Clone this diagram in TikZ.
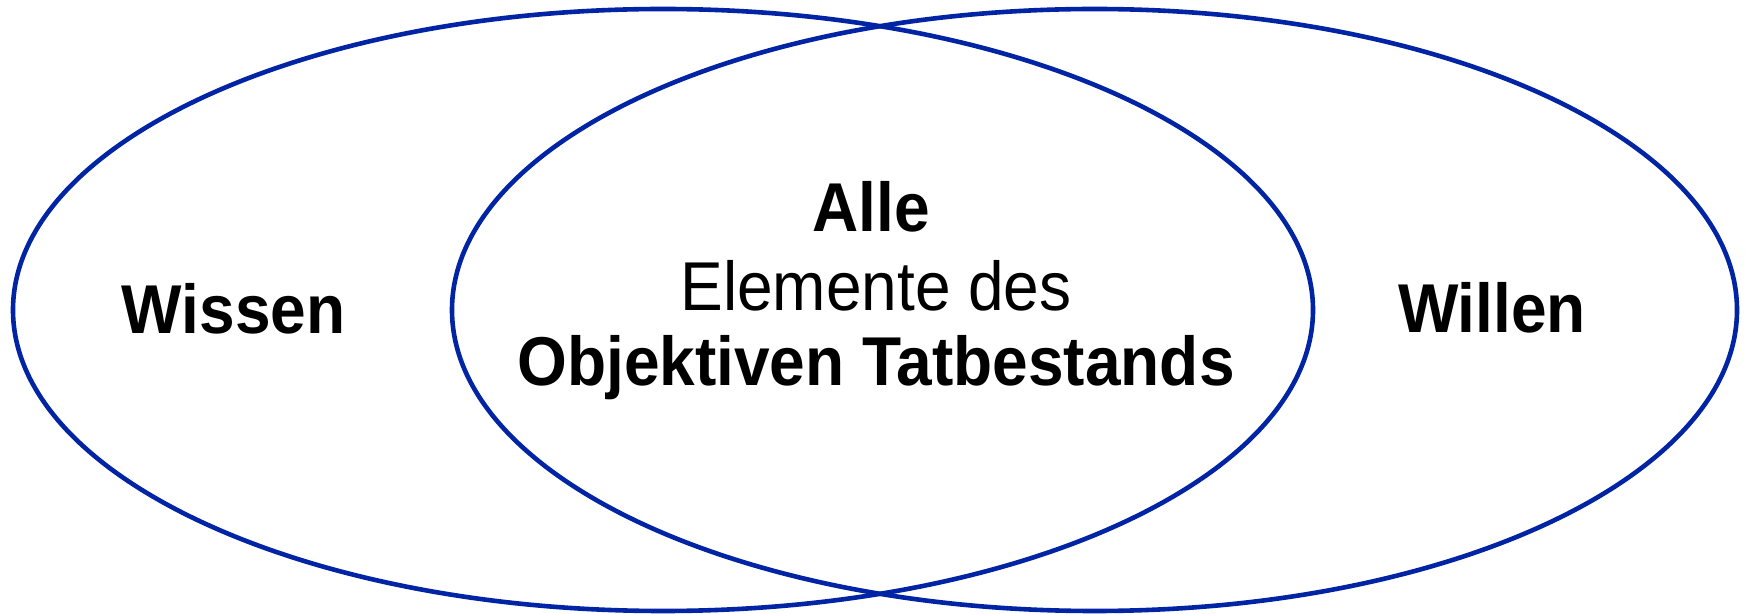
\documentclass[tikz,border=0pt]{standalone}
\usepackage{fontspec}
\setmainfont{Liberation Sans}
\definecolor{ringblue}{RGB}{0,36,164}
\newcommand{\tallt}[1]{\scalebox{1}[1.08]{#1}}
\begin{document}
\begin{tikzpicture}[x=0.5pt,y=-0.5pt,
  ring/.style={draw=ringblue,line width=2.3pt},
  lbl/.style={anchor=base,inner sep=0pt,font=\fontsize{32pt}{38pt}\selectfont\bfseries},
  lblr/.style={anchor=base,inner sep=0pt,font=\fontsize{32pt}{38pt}\selectfont}]
\useasboundingbox (0,0) rectangle (1747,614);
\draw[ring] (663,310) ellipse [x radius=650, y radius=301];
\draw[ring] (1094.5,310) ellipse [x radius=642.5, y radius=301];
\node[lbl] (wissen) at (233.5,334) {\tallt{Wissen}};
\node[lbl] (willen) at (1492,333) {\tallt{Willen}};
\node[lbl] (alle) at (871,232) {\tallt{Alle}};
\node[lblr] (elem) at (876,311) {\tallt{Elemente des}};
\node[lbl] (obj) at (876,386) {\tallt{Objektiven Tatbestands}};
\end{tikzpicture}
\end{document}
